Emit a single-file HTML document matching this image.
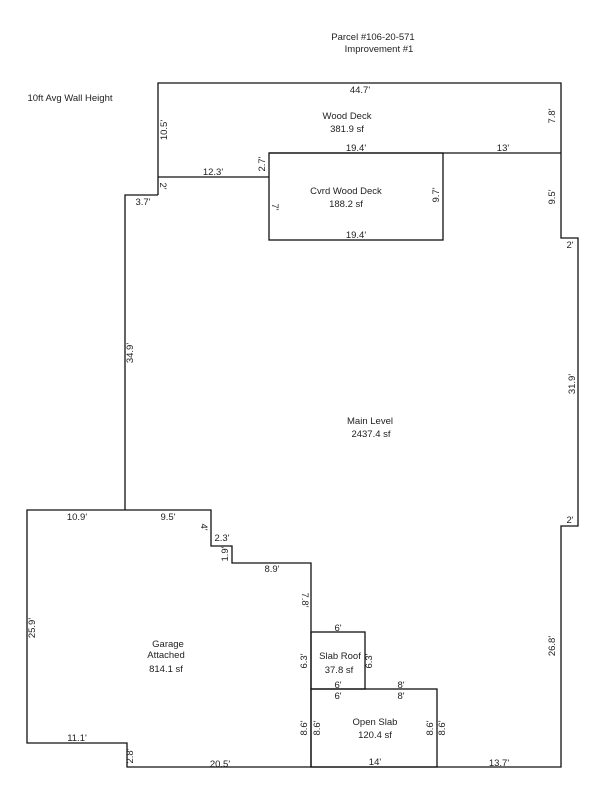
<!DOCTYPE html>
<html><head><meta charset="utf-8"><style>
body{margin:0;background:#fff;width:600px;height:800px;overflow:hidden}
svg text{font-family:"Liberation Sans",sans-serif;font-size:9.5px;fill:#222}
</style></head><body>
<svg width="600" height="800" viewBox="0 0 600 800" xmlns="http://www.w3.org/2000/svg">
<g fill="none" stroke="#111" stroke-width="1.3">
<polyline points="561,153 561,83 158,83 158,195"/>
<line x1="158" y1="177" x2="269" y2="177"/>
<line x1="269" y1="153" x2="561" y2="153"/>
<rect x="269" y="153" width="174" height="87"/>
<polyline points="158,195 125,195 125,510"/>
<polyline points="561,153 561,238 578,238 578,526 561,526 561,767 311,767"/>
<polyline points="125,510 27,510 27,743 127,743 127,767 311,767"/>
<polyline points="125,510 211,510 211,546 232,546 232,563 311,563 311,767"/>
<rect x="311" y="632" width="54" height="57"/>
<rect x="311" y="689" width="126" height="78"/>
</g>
<g text-anchor="middle">
<text x="373" y="40">Parcel #106-20-571</text>
<text x="379" y="52">Improvement #1</text>
<text x="70" y="101">10ft Avg Wall Height</text>
<text x="360" y="93">44.7'</text>
<text x="347" y="119">Wood Deck</text>
<text x="347" y="132">381.9 sf</text>
<text x="356" y="151">19.4'</text>
<text x="503" y="151">13'</text>
<text x="213" y="175">12.3'</text>
<text x="143" y="205">3.7'</text>
<text x="346" y="194">Cvrd Wood Deck</text>
<text x="346" y="207">188.2 sf</text>
<text x="356" y="238">19.4'</text>
<text x="570" y="248">2'</text>
<text x="570" y="523">2'</text>
<text x="370" y="424">Main Level</text>
<text x="371" y="437">2437.4 sf</text>
<text x="77" y="520">10.9'</text>
<text x="168" y="520">9.5'</text>
<text x="222" y="541">2.3'</text>
<text x="272" y="572">8.9'</text>
<text x="168" y="647">Garage</text>
<text x="166" y="658">Attached</text>
<text x="166" y="672">814.1 sf</text>
<text x="338" y="631">6'</text>
<text x="340" y="659">Slab Roof</text>
<text x="339" y="673">37.8 sf</text>
<text x="338" y="688">6'</text>
<text x="401" y="688">8'</text>
<text x="338" y="699">6'</text>
<text x="401" y="699">8'</text>
<text x="375" y="725">Open Slab</text>
<text x="375" y="738">120.4 sf</text>
<text x="375" y="765">14'</text>
<text x="77" y="741">11.1'</text>
<text x="220" y="767">20.5'</text>
<text x="499" y="766">13.7'</text>
</g>
<g text-anchor="middle">
<text transform="translate(167,130) rotate(-90)">10.5'</text>
<text transform="translate(555,116) rotate(-90)">7.8'</text>
<text transform="translate(265,164) rotate(-90)">2.7'</text>
<text transform="translate(160,186) rotate(90)">2'</text>
<text transform="translate(272,207) rotate(90)">7'</text>
<text transform="translate(439,195) rotate(-90)">9.7'</text>
<text transform="translate(555,197) rotate(-90)">9.5'</text>
<text transform="translate(133,353) rotate(-90)">34.9'</text>
<text transform="translate(575,384) rotate(-90)">31.9'</text>
<text transform="translate(35,628) rotate(-90)">25.9'</text>
<text transform="translate(201,527) rotate(90)">4'</text>
<text transform="translate(228,554) rotate(-90)">1.9'</text>
<text transform="translate(302,600) rotate(90)">7.8'</text>
<text transform="translate(307,661) rotate(-90)">6.3'</text>
<text transform="translate(372,661) rotate(-90)">6.3'</text>
<text transform="translate(307,728) rotate(-90)">8.6'</text>
<text transform="translate(320,728) rotate(-90)">8.6'</text>
<text transform="translate(433,728) rotate(-90)">8.6'</text>
<text transform="translate(445,728) rotate(-90)">8.6'</text>
<text transform="translate(133,756) rotate(-90)">2.8'</text>
<text transform="translate(555,646) rotate(-90)">26.8'</text>
</g>
</svg>
</body></html>
